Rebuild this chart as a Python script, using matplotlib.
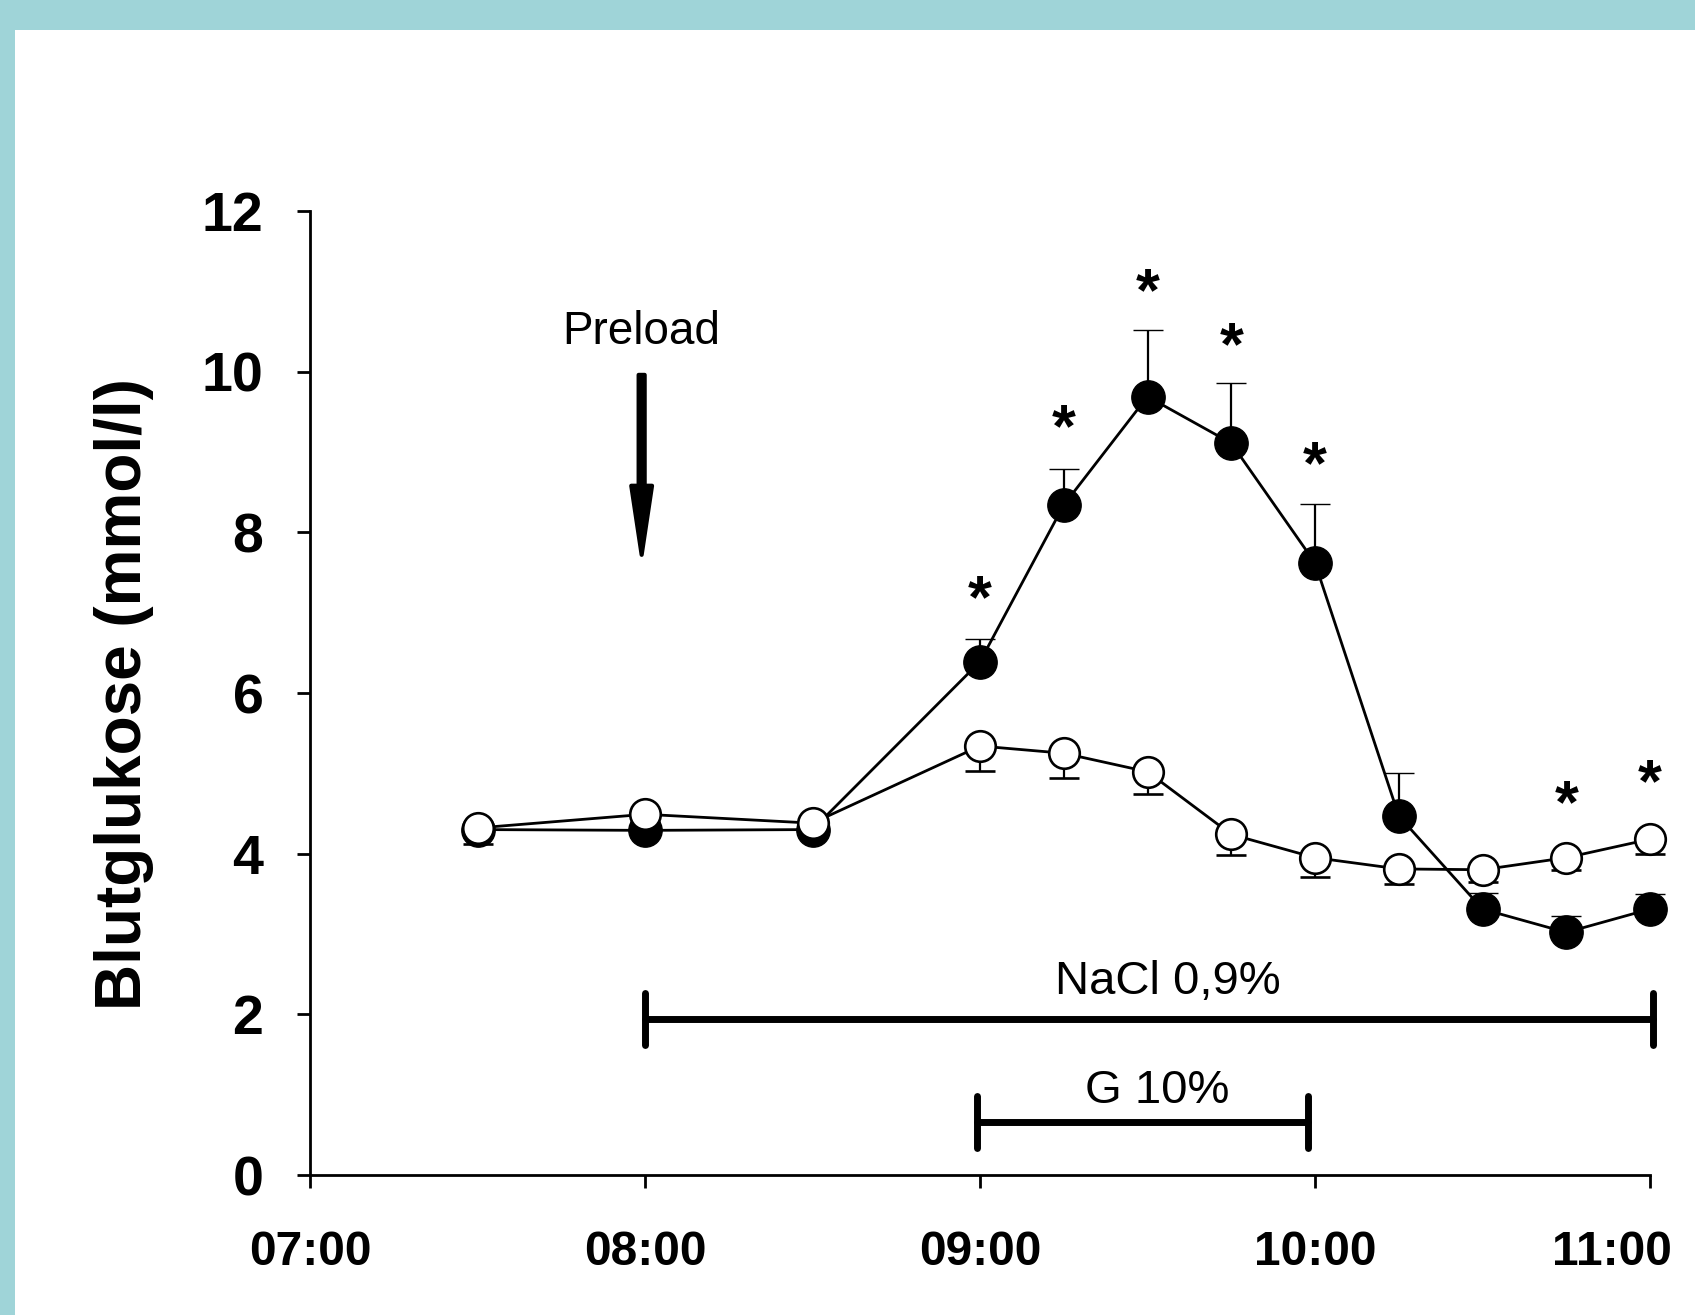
import matplotlib
matplotlib.use("Agg")
import matplotlib.pyplot as plt
from matplotlib.patches import Rectangle, FancyArrow
from matplotlib.transforms import ScaledTranslation

plt.rcParams['font.family'] = ['Liberation Sans', 'DejaVu Sans']

# ---- data ----
times = [7.5, 8.0, 8.5, 9.0, 9.25, 9.5, 9.75, 10.0, 10.25, 10.5, 10.75, 11.0]
glucose_filled = [4.30, 4.29, 4.30, 6.39, 8.34, 9.69, 9.11, 7.62, 4.47, 3.31, 3.02, 3.31]
err_filled = [0.05, 0.05, 0.05, 0.28, 0.45, 0.83, 0.75, 0.73, 0.53, 0.20, 0.20, 0.19]
glucose_open = [4.32, 4.49, 4.38, 5.34, 5.25, 5.02, 4.24, 3.95, 3.81, 3.80, 3.95, 4.18]
err_open = [0.20, 0.10, 0.10, 0.31, 0.31, 0.28, 0.26, 0.24, 0.19, 0.15, 0.15, 0.18]

star_times = [9.0, 9.25, 9.5, 9.75, 10.0, 10.75, 11.0]
star_levels = [7.32, 9.44, 11.14, 10.46, 8.99, 4.77, 5.02]

xticks = [7, 8, 9, 10, 11]
xticklabels = ['07:00', '08:00', '09:00', '10:00', '11:00']
yticks = [0, 2, 4, 6, 8, 10, 12]

preload_time = 7.99
preload_arrow = (9.96, 7.72)   # start, tip (mmol/l)
preload_text_level = 10.50

nacl_range = (8.0, 11.01)
nacl_level = 1.94
nacl_text = (9.56, 2.40)
g_range = (8.99, 9.98)
g_level = 0.66
g_text = (9.53, 1.05)

# ---- figure ----
W, H, DPI = 1695, 1315, 100
fig = plt.figure(figsize=(W / DPI, H / DPI), dpi=DPI, facecolor='white')
teal = '#9fd4d8'
fig.patches.append(Rectangle((0, 1 - 30 / H), 1, 30 / H, transform=fig.transFigure,
                             facecolor=teal, edgecolor='none', zorder=0))
fig.patches.append(Rectangle((0, 0), 15 / W, 1, transform=fig.transFigure,
                             facecolor=teal, edgecolor='none', zorder=0))

ax = fig.add_axes([310 / W, 1 - 1175 / H, 1340 / W, 964 / H])
ax.set_facecolor('none')
ax.set_xlim(7, 11)
ax.set_ylim(0, 12)
for s in ['top', 'right']:
    ax.spines[s].set_visible(False)
for s in ['left', 'bottom']:
    ax.spines[s].set_linewidth(2.0)

# filled series (drawn first, open on top)
ax.errorbar(times, glucose_filled, yerr=[[0] * len(err_filled), err_filled],
            fmt='o-', color='black', markersize=24, markerfacecolor='black',
            markeredgecolor='black', markeredgewidth=1, linewidth=2,
            elinewidth=1.6, capsize=10.8, capthick=1.6, zorder=3, clip_on=False)
ax.errorbar(times, glucose_open, yerr=[err_open, [0] * len(err_open)],
            fmt='o-', color='black', markersize=22, markerfacecolor='white',
            markeredgecolor='black', markeredgewidth=1.9, linewidth=2,
            elinewidth=1.6, capsize=10.8, capthick=1.6, zorder=4, clip_on=False)

# significance stars
star_fs = 44
for t, lv in zip(star_times, star_levels):
    ax.annotate('*', (t, lv), xytext=(0, -0.58 * star_fs + 4), textcoords='offset points',
                ha='center', va='baseline', fontsize=star_fs, fontweight='bold',
                annotation_clip=False)

# preload arrow (sizes in data units: x in hours, y in mmol/l)
arrow = FancyArrow(preload_time, preload_arrow[0], 0, preload_arrow[1] - preload_arrow[0],
                   width=0.018, head_width=0.062, head_length=0.86,
                   length_includes_head=True, facecolor='black', edgecolor='black',
                   linewidth=3, joinstyle='round', capstyle='round', zorder=5)
ax.add_patch(arrow)
ax.text(preload_time, preload_text_level, 'Preload', ha='center', va='center', fontsize=33)

# infusion bars
def range_bar(rng, level, half_h=0.32):
    ax.plot(list(rng), [level, level], color='black', lw=5, solid_capstyle='round',
            clip_on=False, zorder=2)
    for x in rng:
        ax.plot([x, x], [level - half_h, level + half_h], color='black', lw=5,
                solid_capstyle='round', clip_on=False, zorder=2)

range_bar(nacl_range, nacl_level)
ax.text(nacl_text[0], nacl_text[1], 'NaCl 0,9%', ha='center', va='center', fontsize=34)
range_bar(g_range, g_level)
ax.text(g_text[0], g_text[1], 'G 10%', ha='center', va='center', fontsize=34)

# ticks
ax.set_xticks(xticks)
ax.set_xticklabels(xticklabels, fontsize=34.5, fontweight='bold')
ax.set_yticks(yticks)
ax.set_yticklabels([str(v) for v in yticks], fontsize=40, fontweight='bold')
ax.tick_params(axis='x', direction='out', length=9.5, width=2, pad=30)
ax.tick_params(axis='y', direction='out', length=9.5, width=2, pad=24)
lbl = ax.get_xticklabels()[-1]
lbl.set_transform(lbl.get_transform() + ScaledTranslation(-38 / DPI, 0, fig.dpi_scale_trans))

ax.set_ylabel('Blutglukose (mmol/l)', fontsize=46, fontweight='bold')
ax.yaxis.set_label_coords(-0.1388, 0.499)
ax.yaxis.label.set_verticalalignment('center')

fig.savefig('out.png', dpi=DPI, facecolor='white')
